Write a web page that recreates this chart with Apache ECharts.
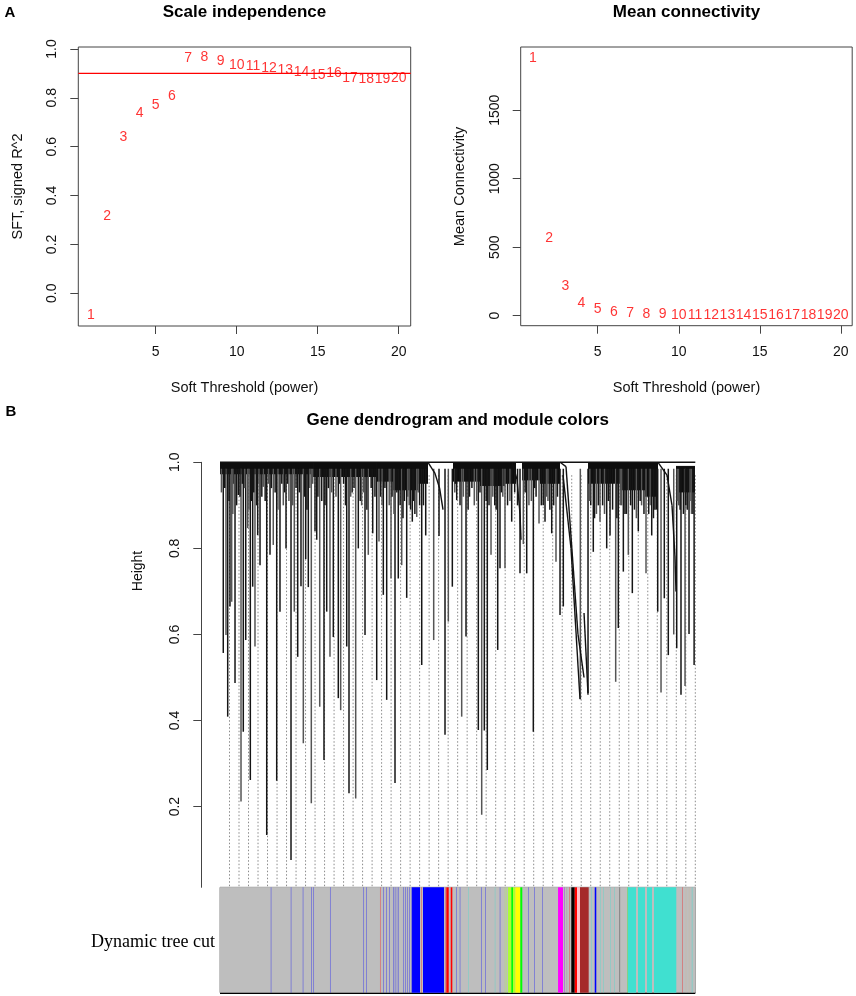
<!DOCTYPE html>
<html>
<head>
<meta charset="utf-8">
<title>WGCNA soft threshold and gene dendrogram</title>
<style>
  html, body { margin: 0; padding: 0; background: #fff; }
  #main { width: 856px; height: 996px; }
</style>
<script src="https://cdn.jsdelivr.net/npm/echarts@6/dist/echarts.min.js"></script>
</head>
<body>
<div id="main"></div>
<script>
// ---- panel A data ----
var powers = [1, 2, 3, 4, 5, 6, 7, 8, 9, 10, 11, 12, 13, 14, 15, 16, 17, 18, 19, 20];
var sftR2 = [-0.09, 0.316, 0.638, 0.736, 0.77, 0.807, 0.963, 0.966, 0.95, 0.935,
             0.931, 0.922, 0.914, 0.904, 0.893, 0.90, 0.88, 0.876, 0.876, 0.879];
var meanK = [1883, 567, 219, 95, 51, 25, 17, 12, 10, 7, 6, 5, 4, 4, 3, 3, 2, 2, 2, 1];
var r2Cut = 0.9;
var powerTicks = [5, 10, 15, 20];
var sftTicks = [0, 0.2, 0.4, 0.6, 0.8, 1.0];
var kTicks = [0, 500, 1000, 1500];

// ---- panel B data (gene order 0..1000) ----
var heightTicks = [0.2, 0.4, 0.6, 0.8, 1.0];
var branchTop = 0.985;
var branchPos = [6.9, 12.6, 16.2, 21.0, 24.6, 31.6, 38.5, 44.2, 49.0, 54.1, 58.3, 63.8, 68.8, 73.6, 79.3,
  84.2, 91.1, 98.3, 105.2, 112.1, 119.3, 126.2, 133.2, 138.9, 149.4, 156.3, 163.5, 170.4, 175.3, 180.3,
  185.8, 192.1, 199.9, 203.5, 209.8, 218.8, 224.5, 231.4, 238.4, 248.9, 253.9, 266.6, 271.4, 285.5, 291.0,
  305.1, 312.0, 321.3, 329.7, 334.5, 343.6, 350.7, 359.8, 368.2, 375.1, 382.3, 392.8, 404.6, 413.9, 424.4,
  432.8, 449.6, 460.8, 473.4, 480.4, 488.8, 498.0, 508.5, 517.6, 543.5, 550.6, 556.1, 562.4, 570.2, 584.3,
  589.1, 599.6, 613.7, 631.2, 638.2, 645.3, 659.2, 671.2, 683.8, 697.9, 706.9, 715.4, 722.3, 758.1, 774.3,
  785.4, 799.5, 813.6, 820.6, 832.5, 838.0, 848.6, 859.1, 867.5, 880.1, 896.3, 908.3, 920.9, 927.9, 934.8,
  943.2, 954.6, 960.9, 969.9, 978.4, 986.8, 997.5,
  3, 28, 35, 52, 66, 88, 102, 116, 130, 145, 160, 178, 195, 214, 228, 244, 260, 278, 298, 318, 338, 356,
  372, 388, 398, 410, 420, 494, 505, 525, 535, 560, 578, 595, 605, 620, 650, 665, 680, 690, 702, 780, 792,
  805, 826, 845, 855, 872, 887, 902, 915, 965, 975, 983, 992,
  10, 19, 27, 42, 47, 61, 71, 77, 82, 95, 108, 122, 136, 142, 153, 167, 183, 189, 206, 221, 235, 251,
  264, 275, 282, 295, 302, 309, 326, 341, 347, 362, 366, 379, 385, 395, 401, 407, 417, 428, 495, 512,
  522, 530, 540, 547, 566, 574, 581, 592, 610, 626, 642, 655, 662, 676, 687, 694, 710, 778, 788, 796,
  809, 817, 835, 842, 852, 864, 876, 884, 892, 905, 912, 918, 962, 968, 980, 989, 995];
var branchLow = [0.557, 0.599, 0.409, 0.665, 0.676, 0.487, 0.924, 0.212, 0.374, 0.587, 0.847, 0.262, 0.711, 0.572, 0.831,
  0.761, 0.943, 0.134, 0.785, 0.808, 0.26, 0.653, 0.90, 0.80, 0.076, 0.653, 0.548, 0.712, 0.347, 0.775,
  0.71, 0.208, 0.84, 0.82, 0.432, 0.308, 0.653, 0.548, 0.594, 0.452, 0.424, 0.572, 0.231, 0.219, 0.80,
  0.599, 0.785, 0.835, 0.494, 0.816, 0.692, 0.448, 0.730, 0.255, 0.73, 0.761, 0.685, 0.862, 0.873, 0.529,
  0.83, 0.587, 0.829, 0.367, 0.63, 0.711, 0.912, 0.409, 0.595, 0.378, 0.181, 0.377, 0.285, 0.785, 0.564,
  0.754, 0.754, 0.862, 0.742, 0.81, 0.742, 0.374, 0.858, 0.862, 0.835, 0.769, 0.645, 0.665, 0.449, 0.464,
  0.792, 0.862, 0.80, 0.83, 0.49, 0.615, 0.746, 0.785, 0.696, 0.84, 0.742, 0.83, 0.653, 0.465, 0.684,
  0.552, 0.60, 0.568, 0.46, 0.48, 0.601, 0.529,
  0.93, 0.95, 0.90, 0.94, 0.91, 0.92, 0.95, 0.93, 0.95, 0.91, 0.94, 0.92, 0.95, 0.91, 0.94, 0.92, 0.95, 0.93, 0.90, 0.94, 0.92, 0.90,
  0.93, 0.91, 0.90, 0.88, 0.90, 0.93, 0.90, 0.92, 0.90, 0.91, 0.90, 0.92, 0.90, 0.93, 0.90, 0.92, 0.90, 0.91, 0.90, 0.90, 0.88,
  0.90, 0.89, 0.90, 0.88, 0.89, 0.90, 0.88, 0.89, 0.90, 0.88, 0.89, 0.88,
  0.94, 0.91, 0.88, 0.92, 0.95, 0.89, 0.93, 0.90, 0.95, 0.91, 0.94, 0.89, 0.93, 0.95, 0.90, 0.93, 0.89, 0.94, 0.92, 0.90, 0.93, 0.95,
  0.90, 0.92, 0.94, 0.91, 0.93, 0.89, 0.92, 0.90, 0.94, 0.92, 0.88, 0.90, 0.87, 0.92, 0.89, 0.91, 0.93, 0.90, 0.95, 0.92,
  0.89, 0.94, 0.91, 0.93, 0.90, 0.92, 0.89, 0.93, 0.91, 0.90, 0.93, 0.91, 0.94, 0.90, 0.92, 0.89, 0.92, 0.91, 0.87, 0.90,
  0.88, 0.91, 0.87, 0.90, 0.88, 0.90, 0.87, 0.91, 0.88, 0.90, 0.87, 0.89, 0.91, 0.89, 0.90, 0.91, 0.88];
// dense top mass of each cluster: [from, to, low, high]
var clusterMass = [
  [0, 195.7, 0.972, 1], [195.7, 330.3, 0.966, 1], [330.3, 364, 0.955, 1], [364, 416.6, 0.935, 1],
  [416.6, 437.6, 0.95, 1], [490.2, 547, 0.955, 1], [547, 599.6, 0.945, 1], [599.6, 622.8, 0.95, 1],
  [635.4, 673.3, 0.958, 1], [673.3, 715.4, 0.95, 1], [774.3, 841.6, 0.95, 1], [841.6, 894.2, 0.935, 1],
  [894.2, 921.5, 0.92, 1], [959.4, 999.4, 0.93, 0.99]
];
// merge links: [x1, h1, x2, h2]
var mergeLinks = [
  [0, 1, 1000, 1],
  [437.6, 1, 452, 0.975], [452, 0.975, 462, 0.94], [462, 0.94, 469.2, 0.89],
  [614.4, 1, 624.9, 0.96], [624.9, 0.96, 631.2, 0.88], [631.2, 0.88, 633.3, 0.82],
  [715.4, 1, 728, 0.99], [721.7, 0.97, 738.5, 0.80], [728, 0.99, 753.2, 0.60], [738.5, 0.80, 757.4, 0.45],
  [753.2, 0.60, 765.9, 0.50], [765.9, 0.65, 774.3, 0.46],
  [921.5, 1, 940.5, 0.97], [940.5, 0.97, 951, 0.90], [951, 0.90, 957.3, 0.78], [957.3, 0.78, 959.4, 0.70],
  [959.4, 0.99, 999.4, 0.99]
];
var guidePos = [20, 40, 60, 80, 100, 120, 140, 160, 180, 200, 220, 240, 260, 280, 300, 320, 340, 360, 380, 400,
  420, 440, 460, 480, 500, 520, 540, 560, 580, 600, 620, 640, 660, 680, 700, 720, 740, 760, 780, 800,
  820, 840, 860, 880, 900, 920, 940, 960, 980, 1000];
var guideLow = 0.0125;
// Dynamic tree cut: [from, to, module]
var treeCut = [
  [0, 1000, 'grey'],
  [106.7, 108.2, 'blue'], [148.8, 150.3, 'blue'], [174, 175.5, 'blue'], [191.5, 193, 'blue'], [196.3, 197.8, 'blue'],
  [231.4, 232.9, 'blue'], [301.5, 303, 'blue'], [307.2, 308.7, 'blue'], [336.6, 338.1, 'red'], [343, 344.5, 'blue'],
  [349.3, 350.8, 'blue'], [355.6, 357.1, 'blue'], [364.6, 366.6, 'blue'], [369.3, 370.8, 'blue'], [373.9, 375.9, 'blue'],
  [385, 386.5, 'blue'], [389.2, 390.7, 'blue'], [393.4, 394.9, 'blue'], [397.7, 399.2, 'blue'], [401.9, 403.4, 'blue'],
  [404, 420.8, 'blue'], [422.9, 424.4, 'red'], [427.1, 471.3, 'blue'], [473.4, 474.9, 'red'], [476.1, 481.2, 'red'],
  [485.4, 488.8, 'red'], [496.5, 498, 'blue'], [504.3, 505.8, 'blue'], [521.8, 523.3, 'turquoise'], [549.1, 550.6, 'blue'],
  [557.6, 559.1, 'blue'], [578, 579.5, 'turquoise'], [588.5, 590, 'blue'], [599, 600.5, 'greenyellow'],
  [602.5, 604, 'greenyellow'], [606, 612.9, 'greenyellow'], [612.9, 616.5, 'green'], [616.5, 621.3, 'greenyellow'],
  [621.3, 631.8, 'yellow'], [631.8, 636, 'green'], [648, 649.5, 'blue'], [660.7, 662.2, 'blue'], [678.1, 679.6, 'blue'],
  [711.2, 721.7, 'magenta'], [723.8, 725.8, 'purple'], [729, 730.5, 'darkgrey'], [734.3, 735.8, 'red'],
  [739.1, 746.3, 'black'], [746.3, 751.1, 'red'], [751.1, 757.4, 'pink'], [757.4, 775.7, 'brown'],
  [780.6, 782.1, 'turquoise'], [788.4, 791.7, 'blue'], [799.5, 801, 'turquoise'], [805.8, 807.3, 'turquoise'],
  [820.6, 822.1, 'turquoise'], [829, 830.5, 'turquoise'], [839.5, 842, 'darkgrey'], [857, 858.4, 'green'],
  [858.4, 875.3, 'turquoise'], [879.5, 894.2, 'turquoise'], [898.4, 908.9, 'turquoise'], [913.1, 960, 'turquoise'],
  [972, 973.5, 'red'], [979.8, 981.3, 'tan'], [986.1, 987.6, 'tan'], [992.4, 994.5, 'turquoise']
];

var moduleColors = {
  grey: '#BEBEBE', blue: '#0000FF', turquoise: '#40E0D0', red: '#FF0000', brown: '#A52A2A',
  yellow: '#FFFF00', green: '#00FF00', greenyellow: '#ADFF2F', magenta: '#FF00FF', black: '#000000',
  pink: '#FFC0CB', purple: '#A020F0', tan: '#D2B48C', darkgrey: '#8C8C8C'
};

var SANS = 'Liberation Sans, Arial, sans-serif';
var chart = echarts.init(document.getElementById('main'), null, { renderer: 'canvas' });

function tickAxis(gi, min, max, ticks, fmt, extra) {
  var ax = {
    type: 'value', gridIndex: gi, min: min, max: max,
    splitLine: { show: false },
    axisLine: { show: false, onZero: false },
    axisTick: { show: true, length: 8, customValues: ticks, lineStyle: { color: '#444', width: 1 } },
    axisLabel: { show: true, customValues: ticks, margin: 19, color: '#111', fontSize: 14, fontFamily: SANS, formatter: fmt }
  };
  if (extra) {
    for (var k in extra) {
      if (k === 'rotate') ax.axisLabel.rotate = extra[k];
      else ax[k] = extra[k];
    }
  }
  return ax;
}
function hiddenAxis(gi, min, max) {
  return { type: 'value', gridIndex: gi, min: min, max: max, show: false };
}
function labelSeries(xi, values) {
  return {
    type: 'scatter', xAxisIndex: xi, yAxisIndex: xi, silent: true, z: 5,
    data: powers.map(function (p, i) { return [p, values[i]]; }),
    symbolSize: 1, itemStyle: { color: 'rgba(0,0,0,0)' },
    label: { show: true, position: 'inside', color: '#FF0000', fontSize: 14, fontFamily: SANS,
      textBorderWidth: 0, formatter: function (p) { return p.value[0]; } }
  };
}

var option = {
  animation: false,
  grid: [
    { left: 78.3, top: 47, width: 332.4, height: 279, show: true, borderColor: '#444', borderWidth: 1 },
    { left: 520.7, top: 47, width: 331.5, height: 278.7, show: true, borderColor: '#444', borderWidth: 1 },
    { left: 78.3, top: 47, width: 332.4, height: 279 },
    { left: 220, top: 462.3, width: 475.3, height: 425 },
    { left: 220, top: 887.3, width: 475.3, height: 105.4, show: true, borderColor: '#888', borderWidth: 1 }
  ],
  xAxis: [
    tickAxis(0, 0.22, 20.74, powerTicks, function (v) { return v; }),
    tickAxis(1, 0.25, 20.7, powerTicks, function (v) { return v; }),
    hiddenAxis(2, 0.22, 20.74),
    hiddenAxis(3, 0, 1000),
    hiddenAxis(4, 0, 1000)
  ],
  yAxis: [
    tickAxis(0, -0.134, 1.008, sftTicks, function (v) { return v.toFixed(1); }, { rotate: 90 }),
    tickAxis(1, -73, 1962, kTicks, function (v) { return v; }, { rotate: 90 }),
    hiddenAxis(2, -0.134, 1.008),
    tickAxis(3, 0.0125, 1.0, heightTicks, function (v) { return v.toFixed(1); },
      { rotate: 90, axisLine: { show: true, onZero: false, lineStyle: { color: '#444', width: 1 } }, offset: 18.7 }),
    hiddenAxis(4, 0, 1)
  ]
};

option.series = [
  {
    // R^2 cut-off line of panel A
    type: 'line', xAxisIndex: 2, yAxisIndex: 2, silent: true, z: 3, symbol: 'none',
    data: [[0.22, r2Cut], [20.74, r2Cut]],
    lineStyle: { color: '#FF0000', width: 1.2 }
  },
  labelSeries(0, sftR2),
  labelSeries(1, meanK),
  {
    // guide lines
    type: 'custom', xAxisIndex: 3, yAxisIndex: 3, silent: true, z: 1,
    data: guidePos.map(function (p) { return [p]; }),
    renderItem: function (params, api) {
      var a = api.coord([api.value(0), 0.97]);
      var b = api.coord([api.value(0), guideLow]);
      return { type: 'line', shape: { x1: a[0], y1: a[1], x2: b[0], y2: b[1] },
        style: { stroke: '#8a8a8a', lineWidth: 1, lineDash: [1.5, 2] } };
    }
  },
  {
    type: 'custom', xAxisIndex: 3, yAxisIndex: 3, silent: true, z: 2,
    data: clusterMass,
    renderItem: function (params, api) {
      var a = api.coord([api.value(0), api.value(3)]);
      var b = api.coord([api.value(1), api.value(2)]);
      return { type: 'rect', shape: { x: a[0], y: a[1], width: b[0] - a[0], height: b[1] - a[1] },
        style: { fill: '#0d0d0d' } };
    }
  },
  {
    type: 'custom', xAxisIndex: 3, yAxisIndex: 3, silent: true, z: 3,
    data: branchPos.map(function (p, i) { return [p, branchLow[i]]; }),
    renderItem: function (params, api) {
      var a = api.coord([api.value(0), branchTop]);
      var b = api.coord([api.value(0), api.value(1)]);
      return { type: 'line', shape: { x1: a[0], y1: a[1], x2: b[0], y2: b[1] },
        style: { stroke: params.dataIndex % 3 === 1 ? '#555' : '#151515', lineWidth: 1.5 } };
    }
  },
  {
    type: 'custom', xAxisIndex: 3, yAxisIndex: 3, silent: true, z: 4,
    data: mergeLinks,
    renderItem: function (params, api) {
      var a = api.coord([api.value(0), api.value(1)]);
      var b = api.coord([api.value(2), api.value(3)]);
      return { type: 'line', shape: { x1: a[0], y1: a[1], x2: b[0], y2: b[1] },
        style: { stroke: '#111', lineWidth: 1.4 } };
    }
  },
  {
    type: 'custom', xAxisIndex: 4, yAxisIndex: 4, silent: true, z: 1,
    data: treeCut.map(function (c) { return [c[0], c[1]]; }),
    renderItem: function (params, api) {
      var a = api.coord([api.value(0), 1]);
      var b = api.coord([api.value(1), 0]);
      var thin = api.value(1) - api.value(0) < 2.5;
      return { type: 'rect', shape: { x: a[0], y: a[1], width: b[0] - a[0], height: b[1] - a[1] },
        style: { fill: moduleColors[treeCut[params.dataIndex][2]], opacity: thin ? 0.45 : 1 } };
    }
  }
];

option.graphic = [
  { type: 'text', x: 10, y: 13, style: { text: 'A', font: 'bold 15px ' + SANS, fill: '#000', align: 'center', verticalAlign: 'middle' } },
  { type: 'text', x: 11, y: 412, style: { text: 'B', font: 'bold 15px ' + SANS, fill: '#000', align: 'center', verticalAlign: 'middle' } },
  { type: 'text', x: 244.5, y: 12, style: { text: 'Scale independence', font: 'bold 17px ' + SANS, fill: '#000', align: 'center', verticalAlign: 'middle' } },
  { type: 'text', x: 686.5, y: 12, style: { text: 'Mean connectivity', font: 'bold 17px ' + SANS, fill: '#000', align: 'center', verticalAlign: 'middle' } },
  { type: 'text', x: 457.7, y: 420, style: { text: 'Gene dendrogram and module colors', font: 'bold 17px ' + SANS, fill: '#000', align: 'center', verticalAlign: 'middle' } },
  { type: 'text', x: 244.5, y: 388, style: { text: 'Soft Threshold (power)', font: '14.5px ' + SANS, fill: '#111', align: 'center', verticalAlign: 'middle' } },
  { type: 'text', x: 686.5, y: 388, style: { text: 'Soft Threshold (power)', font: '14.5px ' + SANS, fill: '#111', align: 'center', verticalAlign: 'middle' } },
  { type: 'text', x: 17.5, y: 186.5, rotation: Math.PI / 2, style: { text: 'SFT, signed R^2', font: '14.5px ' + SANS, fill: '#111', align: 'center', verticalAlign: 'middle' } },
  { type: 'text', x: 459.7, y: 186.5, rotation: Math.PI / 2, style: { text: 'Mean Connectivity', font: '14.5px ' + SANS, fill: '#111', align: 'center', verticalAlign: 'middle' } },
  { type: 'text', x: 138.3, y: 571, rotation: Math.PI / 2, style: { text: 'Height', font: '14px ' + SANS, fill: '#111', align: 'center', verticalAlign: 'middle' } },
  { type: 'text', x: 215, y: 942, style: { text: 'Dynamic tree cut', font: '18px Liberation Serif, Times New Roman, serif', fill: '#000', align: 'right', verticalAlign: 'middle' } },
  { type: 'line', shape: { x1: 220, y1: 993, x2: 695.3, y2: 993 }, style: { stroke: '#000', lineWidth: 2 } }
];
chart.setOption(option);
</script>
</body>
</html>
